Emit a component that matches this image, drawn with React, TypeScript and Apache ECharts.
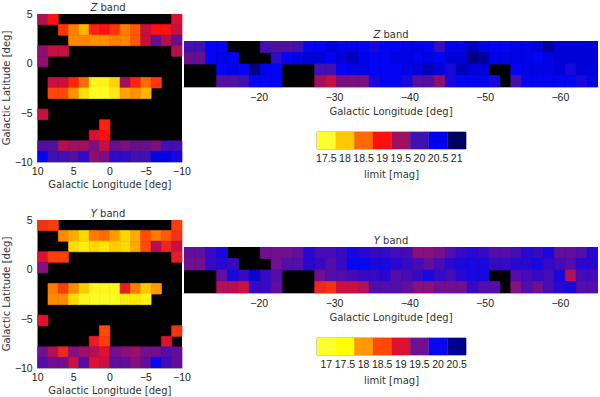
import React, { useEffect, useRef } from "react";
import * as echarts from "echarts";

const n = null;
const FONT = "DejaVu Sans";
const NUM_FONT = "Liberation Sans";

const zTicks = [17.5, 18, 18.5, 19, 19.5, 20, 20.5, 21];
const zColors = ["#ffff30", "#ffc800", "#ff6a00", "#ff1010", "#a01060", "#4010b0", "#0000f0", "#000060"];
const zRampValues = [17.5, 18, 18.5, 19, 19.5, 20, 20.3, 20.5, 20.8, 21];
const zRampColors = ["#ffff20", "#ffc800", "#ff6a00", "#ff1010", "#a01060", "#4010b0", "#0404f4", "#0000d8", "#000080", "#000060"];
const yTicks = [17, 17.5, 18, 18.5, 19, 19.5, 20, 20.5];
const yColors = ["#ffff30", "#ffff00", "#ff9a00", "#ff4a00", "#e01030", "#701090", "#0808f0", "#000090"];
const yRampValues = [17, 17.5, 18, 18.5, 19, 19.5, 20, 20.2, 20.5];
const yRampColors = ["#ffff30", "#ffe800", "#ff9a00", "#ff4a00", "#e01030", "#701090", "#2808d0", "#0808f0", "#000090"];

const zBulge = [
  [19.4, 19.0, n, n, n, n, n, n, n, n, n, n, n, 19.2],
  [n, n, 18.8, 18.4, 18.1, 18.9, 19.0, 18.8, 18.4, 18.6, 19.3, 19.0, 19.0, 19.3],
  [n, n, n, 18.35, 18.35, 18.3, 18.3, 18.4, 18.35, 18.6, 19.3, 19.8, 19.4, 19.8],
  [19.6, 19.3, 19.3, n, n, n, n, n, n, n, n, n, n, 19.4],
  [19.6, n, n, n, n, n, n, n, n, n, n, n, n, n],
  [n, n, n, n, n, n, n, n, n, n, n, n, n, n],
  [n, 19.3, 19.3, 18.9, 18.5, 17.6, 17.6, 17.9, 19.5, 18.9, 18.5, 18.8, n, n],
  [n, 18.7, 18.7, 18.3, 17.8, 17.5, 17.5, 17.7, 18.2, 18.3, 18.1, n, n, n],
  [n, n, n, n, n, n, n, n, n, n, n, n, n, n],
  [19.3, n, n, n, n, n, n, n, n, n, n, n, n, n],
  [n, n, n, n, n, n, 18.9, n, n, n, n, n, n, n],
  [n, n, n, n, n, 19.2, 19.0, n, n, n, n, n, n, n],
  [19.9, 19.9, 19.4, 19.5, 19.5, 19.7, 19.3, 19.8, 19.7, 19.8, 19.8, 19.7, 20.0, 20.0],
  [20.3, 20.0, 20.0, 19.9, 20.1, 19.6, 19.7, 20.1, 20.1, 20.0, 20.0, 20.4, 20.4, 20.2],
];

const yBulge = [
  [18.7, 18.6, n, n, n, n, n, n, n, n, n, n, n, 18.6],
  [n, n, 18.1, 17.9, 17.6, 18.2, 18.3, 18.0, 17.6, 17.9, 18.5, 18.2, 18.4, 18.7],
  [n, n, n, 17.6, 17.4, 17.6, 17.5, 17.7, 17.6, 17.9, 18.5, 19.2, 18.8, 19.1],
  [19.0, 18.6, 18.6, n, n, n, n, n, n, n, n, n, n, 18.9],
  [19.4, n, n, n, n, n, n, n, n, n, n, n, n, n],
  [n, n, n, n, n, n, n, n, n, n, n, n, n, n],
  [n, 18.2, 18.6, 18.1, 17.7, 17.2, 17.2, 17.2, 18.9, 18.2, 17.7, 18.0, n, n],
  [n, 18.1, 18.1, 17.6, 17.2, 17.1, 17.1, 17.1, 17.4, 17.5, 17.3, n, n, n],
  [n, n, n, n, n, n, n, n, n, n, n, n, n, n],
  [19.0, n, n, n, n, n, n, n, n, n, n, n, n, n],
  [n, n, n, n, n, n, 18.5, n, n, n, n, n, n, 18.7],
  [n, n, n, n, n, 18.9, 18.6, n, n, n, n, n, 19.0, n],
  [19.5, 19.2, 18.8, 19.4, 19.3, 19.2, 19.0, 19.5, 19.4, 19.3, 19.5, 19.5, 19.7, 19.6],
  [19.7, 19.5, 19.5, 19.1, 19.7, 19.0, 19.1, 19.6, 19.6, 19.4, 19.6, 20.2, 19.8, 19.6],
];

const zDisk = [
  [20.0, 20.0, 20.3, 20.3, n, n, n, 20.0, 19.9, 19.9, 20.0, 20.3, 20.3, 20.5, 20.4, 20.4, 20.3, 20.2, 20.3, 20.3, 20.4, 20.4, 20.3, 20.05, 20.4, 20.4, 20.6, 20.4, 20.3, 20.3, 20.4, 20.4, 20.5, 20.7, 20.5, 20.5, 20.5, 20.5],
  [19.8, 19.8, 20.3, 20.4, 20.3, n, n, n, 20.1, 20.3, 20.4, 20.5, 20.5, 20.3, 20.5, 20.6, 20.4, 20.3, 20.3, 20.4, 20.4, 20.35, 20.4, 20.3, 20.5, 20.5, 20.8, 20.7, 20.4, 20.4, 20.4, 20.4, 20.3, 20.4, 20.5, 20.5, 20.5, 20.5],
  [n, n, n, 20.3, 20.4, 20.3, 20.8, 20.4, 20.3, n, n, n, 20.0, 20.0, 20.3, 20.4, 20.4, 20.3, 20.3, 20.3, 20.4, 20.5, 20.6, 20.5, 20.2, 20.6, 20.5, 20.5, n, n, 20.3, 20.4, 20.4, 20.4, 20.5, 20.2, 20.5, 20.5],
  [n, n, n, 19.9, 19.9, 20.0, 20.3, 20.3, 20.3, n, n, n, 19.5, 19.3, 19.7, 19.7, 19.7, 20.2, 20.3, 20.3, 20.2, 19.9, 19.9, 19.6, 20.2, 20.3, 20.3, 20.3, 20.2, n, 20.0, 20.3, 20.3, 20.3, 20.3, 20.3, 20.2, 20.4],
];

const yDisk = [
  [19.6, 19.6, 19.9, 20.1, n, n, n, 19.5, 19.5, 19.5, 19.6, 20.0, 19.8, 19.8, 19.9, 20.1, 20.0, 19.9, 19.9, 19.8, 19.8, 19.4, 19.4, 19.45, 19.7, 19.9, 20.0, 19.9, 19.7, 19.7, 19.8, 20.0, 19.9, 20.1, 19.6, 19.6, 19.7, 20.0],
  [19.5, 19.5, 19.9, 20.0, 19.9, n, n, n, 19.5, 19.7, 19.7, 20.0, 19.9, 19.7, 19.9, 20.2, 20.2, 20.1, 20.1, 20.0, 19.9, 19.8, 19.6, 19.8, 20.0, 20.1, 20.1, 20.1, 19.9, 19.9, 20.0, 20.0, 20.1, 19.9, 19.8, 19.7, 20.0, 20.0],
  [n, n, n, 19.6, 20.1, 19.9, 20.3, 19.9, 19.7, n, n, n, 19.5, 19.7, 19.7, 19.8, 19.9, 19.9, 20.0, 19.7, 19.8, 19.9, 20.1, 19.9, 19.8, 20.0, 20.1, 20.1, n, n, 19.7, 19.8, 19.9, 19.8, 20.1, 19.2, 19.8, 19.8],
  [n, n, n, 19.2, 19.2, 19.1, 19.9, 19.9, 19.6, n, n, n, 18.8, 18.7, 19.1, 19.1, 19.2, 19.7, 19.7, 19.7, 19.6, 19.4, 19.4, 19.5, 19.5, 19.5, 19.9, 19.7, 19.7, n, 19.4, 19.7, 19.5, 19.8, 20.0, 20.1, 19.7, 19.7],
];

const bulgeLonTicks = [10, 5, 0, -5, -10];
const bulgeLatTicks = [5, 0, -5, -10];
const diskLonTicks = [-20, -30, -40, -50, -60];

function parseHex(c: string) {
  return [1, 3, 5].map((i) => parseInt(c.slice(i, i + 2), 16));
}
function colorFor(v: number, stops: number[], colors: string[]) {
  if (v <= stops[0]) return colors[0];
  const last = stops.length - 1;
  if (v >= stops[last]) return colors[last];
  let i = 0;
  while (i < last - 1 && v >= stops[i + 1]) i++;
  const t = (v - stops[i]) / (stops[i + 1] - stops[i]);
  const a = parseHex(colors[i]);
  const b = parseHex(colors[i + 1]);
  const m = a.map((x, k) => Math.round(x + (b[k] - x) * t));
  return `rgb(${m[0]},${m[1]},${m[2]})`;
}

const minus = (v: number) => String(v).replace("-", "\u2212");

function toCells(rows: (number | null)[][]) {
  const out: number[][] = [];
  rows.forEach((r, i) =>
    r.forEach((v, j) => {
      if (v !== null) out.push([j, i, v]);
    })
  );
  return out;
}

const nameStyle = { fontFamily: FONT, fontSize: 10, fontWeight: "normal", color: "#333" };
const tickStyle = { fontFamily: NUM_FONT, fontSize: 10.5, color: "#222" };

export default function App() {
  const ref = useRef<HTMLDivElement>(null);
  useEffect(() => {
    const chart = echarts.init(ref.current!, undefined, { renderer: "svg" });
    const grids: any[] = [];
    const xAxes: any[] = [];
    const yAxes: any[] = [];
    const series: any[] = [];
    const titles: any[] = [];

    const heat = (
      idx: number,
      rows: (number | null)[][],
      lon: [number, number],
      lat: [number, number],
      stops: number[],
      colors: string[]
    ) => {
      const nc = rows[0].length;
      const nr = rows.length;
      series.push({
        type: "custom",
        xAxisIndex: idx,
        yAxisIndex: idx,
        data: toCells(rows),
        clip: true,
        renderItem: (_: any, api: any) => {
          const c = api.value(0);
          const r = api.value(1);
          const v = api.value(2);
          const lonAt = (k: number) => lon[0] + ((lon[1] - lon[0]) * k) / nc;
          const latAt = (k: number) => lat[0] + ((lat[1] - lat[0]) * k) / nr;
          const p0 = api.coord([lonAt(c), latAt(r)]);
          const p1 = api.coord([lonAt(c + 1), latAt(r + 1)]);
          const col = colorFor(v, stops, colors);
          return {
            type: "rect",
            shape: { x: p0[0], y: p0[1], width: p1[0] - p0[0], height: p1[1] - p0[1] },
            style: { fill: col, stroke: col, lineWidth: 0.7 },
          };
        },
      });
    };

    const title = (band: string, x: number, y: number) =>
      titles.push({
        text: `{i|${band}}{r| band}`,
        left: x,
        top: y,
        textAlign: "center",
        textVerticalAlign: "middle",
        padding: 0,
        textStyle: {
          fontWeight: "normal",
          rich: {
            i: { fontFamily: FONT, fontSize: 10, fontStyle: "italic", fontWeight: "normal", color: "#333" },
            r: { fontFamily: FONT, fontSize: 10, fontWeight: "normal", color: "#333" },
          },
        },
      });

    const bulge = (rows: (number | null)[][], top: number, stops: number[], colors: string[]) => {
      const idx = grids.length;
      grids.push({ left: 34, top, width: 148, height: 148, show: true, backgroundColor: "#000", borderWidth: 0 });
      xAxes.push({
        type: "value",
        gridIndex: idx,
        min: -10,
        max: 10,
        inverse: true,
        name: "Galactic Longitude [deg]",
        nameLocation: "middle",
        nameGap: 17,
        nameTextStyle: nameStyle,
        axisLine: { show: true, onZero: false, lineStyle: { color: "#555", width: 0.5 } },
        axisTick: { show: false },
        axisLabel: { ...tickStyle, margin: 3, customValues: bulgeLonTicks, formatter: minus, alignMinLabel: "center", alignMaxLabel: "center", moveOverlap: false },
        splitLine: { show: false },
      });
      yAxes.push({
        type: "value",
        gridIndex: idx,
        min: -10,
        max: 5,
        name: "Galactic Latitude [deg]",
        nameLocation: "middle",
        nameGap: 25,
        nameTextStyle: nameStyle,
        axisLine: { show: true, onZero: false, lineStyle: { color: "#555", width: 0.5 } },
        axisTick: { show: false },
        axisLabel: { ...tickStyle, margin: 5, customValues: bulgeLatTicks, formatter: minus, verticalAlignMinLabel: "middle", verticalAlignMaxLabel: "middle", moveOverlap: false },
        splitLine: { show: false },
      });
      heat(idx, rows, [10, -10], [5, -10], stops, colors);
    };

    const disk = (rows: (number | null)[][], top: number, stops: number[], colors: string[]) => {
      const idx = grids.length;
      grids.push({ left: 184, top, width: 414, height: 46, show: true, backgroundColor: "#000", borderWidth: 0 });
      xAxes.push({
        type: "value",
        gridIndex: idx,
        min: -65,
        max: -10,
        inverse: true,
        name: "Galactic Longitude [deg]",
        nameLocation: "middle",
        nameGap: 19,
        nameTextStyle: nameStyle,
        axisLine: { show: true, onZero: false, lineStyle: { color: "#555", width: 0.5 } },
        axisTick: { show: true, inside: true, length: 2, customValues: diskLonTicks, lineStyle: { color: "#222", width: 0.5 } },
        axisLabel: { ...tickStyle, margin: 4, customValues: diskLonTicks, formatter: minus },
        splitLine: { show: false },
      });
      yAxes.push({
        type: "value",
        gridIndex: idx,
        min: -2,
        max: 2,
        axisLine: { show: false },
        axisTick: { show: false },
        axisLabel: { show: false },
        splitLine: { show: false },
      });
      heat(idx, rows, [-10, -65], [2, -2], stops, colors);
    };

    const bar = (top: number, ticks: number[], colors: string[]) => {
      const idx = grids.length;
      const cats = ticks.map(String);
      grids.push({ left: 317, top, width: 149, height: 17, show: true, backgroundColor: "#fff", borderWidth: 0.5, borderColor: "#333" });
      xAxes.push({
        type: "category",
        gridIndex: idx,
        data: cats,
        boundaryGap: true,
        name: "limit [mag]",
        nameLocation: "middle",
        nameGap: 20,
        nameTextStyle: nameStyle,
        axisLine: { show: false },
        axisTick: { show: true, inside: true, length: 4, alignWithLabel: true, lineStyle: { color: "#222", width: 0.5 } },
        axisLabel: { ...tickStyle, margin: 3, interval: 0 },
        splitLine: { show: false },
      });
      yAxes.push({
        type: "value",
        gridIndex: idx,
        min: 0,
        max: 1,
        axisLine: { show: false },
        axisTick: { show: false },
        axisLabel: { show: false },
        splitLine: { show: false },
      });
      series.push({
        type: "custom",
        xAxisIndex: idx,
        yAxisIndex: idx,
        data: cats.map((_, i) => [i, 1]),
        z: 1,
        renderItem: (_: any, api: any) => {
          const i = api.value(0);
          const p = api.coord([i, 1]);
          const q = api.coord([i, 0]);
          const w = api.size([1, 0])[0];
          return {
            type: "rect",
            shape: { x: p[0] - w / 2, y: p[1], width: w, height: q[1] - p[1] },
            style: { fill: colors[i], stroke: colors[i], lineWidth: 0.3 },
          };
        },
      });
    };

    bulge(zBulge, 14, zRampValues, zRampColors);
    disk(zDisk, 41, zRampValues, zRampColors);
    bar(132, zTicks, zColors);
    bulge(yBulge, 220, yRampValues, yRampColors);
    disk(yDisk, 247, yRampValues, yRampColors);
    bar(338, yTicks, yColors);

    title("Z", 108, 7);
    title("Z", 391, 34);
    title("Y", 108, 213);
    title("Y", 391, 240);

    chart.setOption({
      animation: false,
      backgroundColor: "#fff",
      title: titles,
      grid: grids,
      xAxis: xAxes,
      yAxis: yAxes,
      series,
    });
    return () => chart.dispose();
  }, []);
  return <div ref={ref} style={{ position: "absolute", left: 0, top: 0, width: 600, height: 397 }} />;
}
